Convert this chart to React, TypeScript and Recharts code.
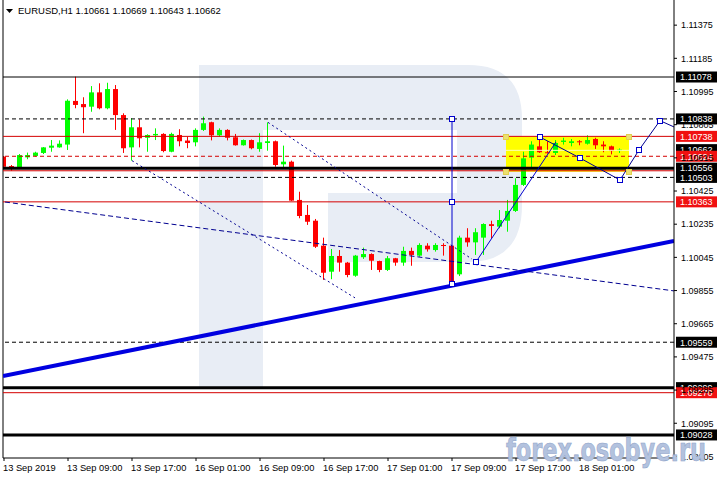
import React from 'react';
import {
  ComposedChart,
  Bar,
  XAxis,
  YAxis,
  ReferenceLine,
  ReferenceArea,
  ReferenceDot,
} from 'recharts';

const FONT = '"Liberation Sans", Arial, sans-serif';
const UP = '#00ff00';
const DOWN = '#ff0000';
const RED_LINE = '#d40000';
const NAVY = '#000090';
const BLUE = '#0000cd';

// EURUSD H1, bars 13 Sep 01:00 .. 18 Sep 06:00
const opens = [
  1.10622, 1.10568, 1.10557, 1.10618, 1.10626, 1.10643, 1.10673, 1.10675, 1.10691, 1.10941,
  1.10923, 1.10908, 1.1099, 1.10899, 1.11009, 1.1086, 1.10675, 1.1079, 1.1073, 1.10744,
  1.10752, 1.1065, 1.10746, 1.10714, 1.10704, 1.10775, 1.10819, 1.10744, 1.10775, 1.10733,
  1.10687, 1.10717, 1.10666, 1.107, 1.1071, 1.10578, 1.10593, 1.10374, 1.10288, 1.10255,
  1.10112, 1.09963, 1.10053, 1.10015, 1.0994, 1.10046, 1.10064, 1.10024, 1.09973, 1.1004,
  1.10015, 1.10082, 1.10055, 1.10112, 1.10087, 1.10116, 1.10112, 1.09948, 1.10158, 1.10131,
  1.10158, 1.10235, 1.10221, 1.10255, 1.10311, 1.1046, 1.10616, 1.10681, 1.10647, 1.10643,
  1.10706, 1.107, 1.1071, 1.10696, 1.10723, 1.10691, 1.10681, 1.10661,
];
const highs = [
  1.10626, 1.10574, 1.10637, 1.10645, 1.1065, 1.10677, 1.10717, 1.10715, 1.1095, 1.1108,
  1.10962, 1.11026, 1.11042, 1.11045, 1.11032, 1.1087, 1.10842, 1.10836, 1.1075, 1.10784,
  1.10756, 1.10759, 1.10779, 1.10736, 1.10784, 1.10851, 1.10822, 1.10784, 1.10779, 1.10752,
  1.1072, 1.1072, 1.10756, 1.10818, 1.10714, 1.10685, 1.10599, 1.10421, 1.10345, 1.10265,
  1.10158, 1.10093, 1.10087, 1.10019, 1.10059, 1.10101, 1.10068, 1.10026, 1.10053, 1.10042,
  1.10106, 1.10101, 1.10126, 1.10126, 1.10126, 1.10126, 1.10116, 1.10169, 1.10212, 1.10212,
  1.1024, 1.10255, 1.10316, 1.10374, 1.10498, 1.1065, 1.1071, 1.10727, 1.1071, 1.10717,
  1.1073, 1.10723, 1.10717, 1.10744, 1.1073, 1.1071, 1.10685, 1.10669,
];
const lows = [
  1.10563, 1.10541, 1.10555, 1.10607, 1.10622, 1.10637, 1.1065, 1.10673, 1.1066, 1.10899,
  1.10756, 1.10879, 1.10893, 1.10893, 1.10775, 1.10643, 1.10599, 1.10675, 1.1065, 1.10717,
  1.10647, 1.10647, 1.10681, 1.1067, 1.10681, 1.10769, 1.10715, 1.10736, 1.10715, 1.10685,
  1.10685, 1.10664, 1.1065, 1.10656, 1.10564, 1.10561, 1.10368, 1.10269, 1.10231, 1.10099,
  1.09916, 1.0992, 1.09963, 1.09931, 1.09934, 1.10036, 1.09973, 1.0996, 1.09967, 1.09997,
  1.09997, 1.09997, 1.10049, 1.10078, 1.10078, 1.10055, 1.09881, 1.09938, 1.10106, 1.10059,
  1.10059, 1.10154, 1.10212, 1.10192, 1.10305, 1.10454, 1.10555, 1.10643, 1.1064, 1.10631,
  1.10691, 1.10681, 1.10687, 1.10691, 1.10666, 1.10647, 1.10635, 1.10643,
];
const closes = [
  1.10564, 1.10551, 1.10631, 1.10631, 1.10645, 1.10675, 1.10685, 1.10696, 1.10942, 1.10918,
  1.10905, 1.1099, 1.10899, 1.11009, 1.1086, 1.1067, 1.1079, 1.10727, 1.10746, 1.10752,
  1.10654, 1.10752, 1.1071, 1.107, 1.10775, 1.10813, 1.10744, 1.10775, 1.1073, 1.10687,
  1.10717, 1.1067, 1.10704, 1.1071, 1.10574, 1.10593, 1.1037, 1.10282, 1.10249, 1.10106,
  1.09957, 1.10053, 1.10015, 1.09944, 1.10055, 1.10064, 1.10026, 1.09973, 1.1004, 1.10015,
  1.10082, 1.10059, 1.10116, 1.10091, 1.10116, 1.1011, 1.09897, 1.10158, 1.10131, 1.10189,
  1.10236, 1.10225, 1.10259, 1.10311, 1.1046, 1.10612, 1.10691, 1.10647, 1.10643, 1.107,
  1.10714, 1.1071, 1.10704, 1.10717, 1.10687, 1.10681, 1.10654, 1.10662,
];

const timeLabels = [
  '13 Sep 2019', '13 Sep 09:00', '13 Sep 17:00', '16 Sep 01:00', '16 Sep 09:00',
  '16 Sep 17:00', '17 Sep 01:00', '17 Sep 09:00', '17 Sep 17:00', '18 Sep 01:00',
];
const timeTickBars = [1, 9, 17, 25, 33, 41, 49, 57, 65, 73];
const priceTicks = [
  1.11375, 1.11185, 1.10995, 1.10805, 1.10615, 1.10425, 1.10235,
  1.10045, 1.09855, 1.09665, 1.09475, 1.09285, 1.09095, 1.08905,
];
const xDomain = [0.875, 84.75];
const yDomain = [1.08896, 1.11519];

// horizontal levels
const blackSolidLevels = [1.11078];
const blackDashedLevels = [1.10838, 1.10503, 1.09559];
const blackThickLevels = [1.10556, 1.09299, 1.09028];
const redSolidLevels = [1.10738, 1.10541, 1.10363, 1.0927];
const redDashedLevels = [1.10624];
const blackTags = [1.11078, 1.10838, 1.10662, 1.10556, 1.10503, 1.09559, 1.09299, 1.09028];
const redTags = [1.10738, 1.10624, 1.10363, 1.0927];

// drawn objects: [bar, price]
const supportLine = [[0.875, 1.09365], [84.75, 1.10139]];
const channelLine = [[1.125, 1.10362], [84.75, 1.09853]];
const fanLines = [
  [[17, 1.10599], [44.875, 1.09813]],
  [[34, 1.10818], [59.5, 1.10035]],
];
const targetBar = 57;
const targetMarks = [1.10838, 1.10362, 1.09893];
const rallyLine = [[60, 1.10019], [70, 1.10706]];
const forecastPath = [
  [68, 1.10734], [73, 1.10614], [78, 1.10488], [80.375, 1.1066], [83, 1.10828], [84.75, 1.10792],
];
const rallyStart = [60, 1.10019];
const rangeBox = { x1: 63.75, x2: 79.125, y1: 1.10536, y2: 1.10736 };

const candles = opens.map((o, i) => ({
  idx: i + 1,
  open: o,
  high: highs[i],
  low: lows[i],
  close: closes[i],
  range: [lows[i], highs[i]],
}));

function Candle(props: any) {
  const { x, y, width, height, payload } = props;
  if (x == null || payload == null) return null;
  const top = Math.min(y, y + height);
  const h = Math.abs(height);
  const { open, close, high, low } = payload;
  const span = high - low || 1e-9;
  const py = (p: number) => top + ((high - p) / span) * h;
  const color = close >= open ? UP : DOWN;
  const cx = Math.floor(x + width / 2) + 0.5;
  const b0 = py(Math.max(open, close));
  const b1 = py(Math.min(open, close));
  return (
    <g>
      <line x1={cx} x2={cx} y1={top} y2={top + Math.max(h, 1)} stroke={color} strokeWidth={1} />
      <rect x={cx - 2.5} y={b0} width={5} height={Math.max(b1 - b0, 1)} fill={color} />
    </g>
  );
}

const PriceTick = ({ x, y, payload }: any) => (
  <text x={x} y={y + 3.3} fontSize={9} fontFamily={FONT} fill="#000">
    {payload.value.toFixed(5)}
  </text>
);

const TimeTick = ({ x, y, payload }: any) => {
  const k = timeTickBars.indexOf(payload.value);
  return (
    <text x={x - 1} y={y + 7.5} fontSize={9.3} fontFamily={FONT} fill="#000">
      {timeLabels[k]}
    </text>
  );
};

const tag = (value: number, bg: string) => (props: any) => {
  const vb = props.viewBox;
  if (!vb) return null;
  const x = vb.x + vb.width + 2;
  const y = vb.y;
  return (
    <g>
      <rect x={x} y={y - 5.5} width={41} height={11} fill={bg} />
      <text x={x + 4} y={y + 3.3} fontSize={9} fontFamily={FONT} fill="#fff">
        {value.toFixed(5)}
      </text>
    </g>
  );
};

const Square = (stroke: string, fill: string) => (props: any) => (
  <rect
    x={Math.round(props.cx) - 2.5}
    y={Math.round(props.cy) - 2.5}
    width={5}
    height={5}
    fill={fill}
    stroke={stroke}
  />
);

const seg = (pts: number[][]) => pts.map(([x, y]) => ({ x, y }));

export default function App() {
  const pathSegments = forecastPath.slice(1).map((p, i) => [forecastPath[i], p]);
  return (
    <div style={{ position: 'fixed', left: 0, top: 0, width: 720, height: 480, background: '#fff', overflow: 'hidden' }}>
      <svg width={720} height={480} style={{ position: 'absolute', left: 0, top: 0 }}>
        <path
          d="M199 65 H468 Q522 65 522 119 V205 Q522 262 468 262 H328 V193 H457 V130 H263 V388 H199 Z"
          fill="#e8edf5"
        />
      </svg>
      <div style={{ position: 'absolute', left: 0, top: 0 }}>
        <ComposedChart
          width={720}
          height={480}
          data={candles}
          margin={{ top: 0, right: 0, bottom: 0, left: 3 }}
        >
          <XAxis
            dataKey="idx"
            type="number"
            domain={xDomain}
            allowDataOverflow
            ticks={timeTickBars}
            interval={0}
            height={22}
            tickSize={3}
            tickMargin={2}
            axisLine={{ stroke: '#000' }}
            tickLine={{ stroke: '#000' }}
            tick={<TimeTick />}
          />
          <YAxis
            orientation="right"
            type="number"
            domain={yDomain}
            allowDataOverflow
            ticks={priceTicks}
            interval={0}
            width={46}
            tickSize={3}
            tickMargin={4}
            axisLine={{ stroke: '#000' }}
            tickLine={{ stroke: '#000' }}
            tick={<PriceTick />}
          />
          <ReferenceArea
            x1={rangeBox.x1}
            x2={rangeBox.x2}
            y1={rangeBox.y1}
            y2={rangeBox.y2}
            fill="#ffff00"
            fillOpacity={1}
            stroke="none"
          />
          <ReferenceLine
            segment={seg([[rangeBox.x1, 1.10658], [rangeBox.x2, 1.10658]])}
            stroke="#ffffb8"
            strokeWidth={1}
          />
          <Bar dataKey="range" barSize={5} isAnimationActive={false} shape={<Candle />} />
          <ReferenceLine x={xDomain[0]} stroke="#000" strokeWidth={1} />
          {blackSolidLevels.map((v) => (
            <ReferenceLine key={'bs' + v} y={v} stroke="#000" strokeWidth={1} />
          ))}
          {blackDashedLevels.map((v) => (
            <ReferenceLine key={'bd' + v} y={v} stroke="#000" strokeWidth={1} strokeDasharray="4 3" />
          ))}
          {redSolidLevels.map((v) => (
            <ReferenceLine key={'rs' + v} y={v} stroke={RED_LINE} strokeWidth={1} />
          ))}
          {redDashedLevels.map((v) => (
            <ReferenceLine key={'rd' + v} y={v} stroke={RED_LINE} strokeWidth={1} strokeDasharray="4 3" />
          ))}
          {blackThickLevels.map((v) => (
            <ReferenceLine key={'bt' + v} y={v} stroke="#000" strokeWidth={3} />
          ))}
          <ReferenceLine segment={seg(supportLine)} stroke="#0000e0" strokeWidth={4} ifOverflow="hidden" />
          <ReferenceLine segment={seg(channelLine)} stroke={NAVY} strokeWidth={1} strokeDasharray="5 3" ifOverflow="hidden" />
          {fanLines.map((l, i) => (
            <ReferenceLine key={'f' + i} segment={seg(l)} stroke={NAVY} strokeWidth={1} strokeDasharray="2 3" ifOverflow="hidden" />
          ))}
          <ReferenceLine
            segment={seg([[targetBar, targetMarks[0]], [targetBar, targetMarks[2]]])}
            stroke={BLUE}
            strokeWidth={1}
          />
          <ReferenceLine segment={seg(rallyLine)} stroke={BLUE} strokeWidth={1} />
          {pathSegments.map((s, i) => (
            <ReferenceLine key={'p' + i} segment={seg(s)} stroke={NAVY} strokeWidth={1} ifOverflow="hidden" />
          ))}
          {targetMarks.map((v) => (
            <ReferenceDot key={'t' + v} x={targetBar} y={v} r={3} shape={Square(BLUE, '#fff')} />
          ))}
          <ReferenceDot x={rallyStart[0]} y={rallyStart[1]} r={3} shape={Square(BLUE, '#fff')} />
          {forecastPath.slice(0, 5).map((p, i) => (
            <ReferenceDot key={'fp' + i} x={p[0]} y={p[1]} r={3} shape={Square(BLUE, '#fff')} />
          ))}
          {[rangeBox.x1, rangeBox.x2].flatMap((bx) =>
            [rangeBox.y1, rangeBox.y2].map((by) => (
              <ReferenceDot key={'h' + bx + by} x={bx} y={by} r={3} shape={Square('#e0d050', '#ece070')} />
            ))
          )}
          {blackTags.map((v) => (
            <ReferenceLine key={'tb' + v} y={v} stroke="none" label={tag(v, '#000')} />
          ))}
          {redTags.map((v) => (
            <ReferenceLine key={'tr' + v} y={v} stroke="none" label={tag(v, '#f01010')} />
          ))}
        </ComposedChart>
      </div>
      <svg width={720} height={480} style={{ position: 'absolute', left: 0, top: 0, pointerEvents: 'none' }}>
        <path d="M6 9 L13 9 L9.5 13 Z" fill="#000" />
        <text x={18} y={14} fontSize={9.5} fontFamily={FONT} fill="#000">
          EURUSD,H1  1.10661 1.10669 1.10643 1.10662
        </text>
        <text
          x={506}
          y={461}
          fontSize={32}
          fontWeight="bold"
          fontFamily='"DejaVu Sans Condensed", "Liberation Sans Narrow", sans-serif'
          textLength={200}
          lengthAdjust="spacingAndGlyphs"
          fill="#b3c2de"
          stroke="#8da2c8"
          strokeWidth={0.6}
        >
          forex.osobye.ru
        </text>
      </svg>
    </div>
  );
}
